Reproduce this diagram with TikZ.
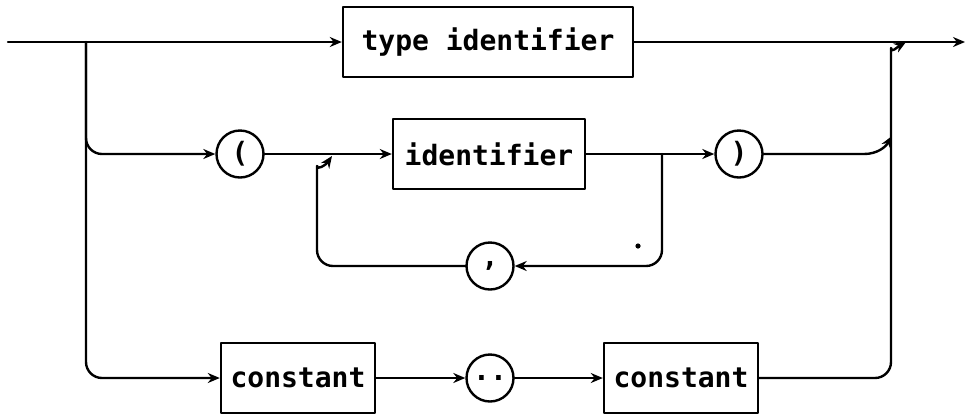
\documentclass[tikz,border=0pt]{standalone}
\usepackage{fontspec}
\setmonofont{DejaVu Sans Mono}
\usetikzlibrary{arrows.meta}
\begin{document}
\begin{tikzpicture}[x=0.5pt, y=-0.5pt, line cap=round, line join=round, >={Stealth[length=6pt, width=5pt]}, line width=1.2pt, font=\ttfamily\bfseries\fontsize{14}{16}\selectfont]
	\tikzset{box style/.style={draw, rectangle, minimum height=35pt, inner sep=2pt},
		term style/.style={draw, circle, minimum size=23.5pt, inner sep=0pt}}
	\useasboundingbox (0,0) rectangle (969,414);
	% nodes
	\node[box style, minimum width=145pt] (typeid) at (488,42) {type identifier};
	\node[term style] (lpar) at (240,154) {(};
	\node[box style, minimum width=96pt] (ident) at (489,154) {identifier};
	\node[term style] (rpar) at (739,154) {)};
	\node[term style] (comma) at (490,266) {,};
	\node[box style, minimum width=77pt] (constA) at (298,378) {constant};
	\node[term style] (dots) at (490,378) {..};
	\node[box style, minimum width=77pt] (constB) at (681,378) {constant};
	% points on the lines
	\coordinate (start) at (8,42);
	\coordinate (split) at (86,42);
	\coordinate (jtop) at (906,42);
	\coordinate (rv) at (891,64);
	\coordinate (jmid) at (892,136);
	\coordinate (bend) at (864,154);
	\coordinate (end) at (965,42);
	\coordinate (lsplit) at (662,154);
	\coordinate (lb) at (317,266);
	\coordinate (lt) at (317,182);
	\coordinate (loopin) at (332,156);
	% top row
	\draw[->] (start) -- (typeid);
	\draw[->] (typeid) -- (end);
	% middle row
	\draw[->, rounded corners=8] (split) |- (lpar);
	\draw[->] (lpar) -- (ident);
	\draw[->] (ident) -- (rpar);
	\draw[->] (rpar) -- (bend) to[out=0, in=240] (jmid);
	\draw[->, rounded corners=8] (lsplit) |- (comma);
	\draw[->, rounded corners=8] (comma) -- (lb) -- (lt) to[out=90, in=235] (loopin);
	\fill (638,246) circle (2.6);
	% bottom row
	\draw[->, rounded corners=8] (split) |- (constA);
	\draw[->] (constA) -- (dots);
	\draw[->] (dots) -- (constB);
	\draw[->, rounded corners=8] (constB) -| (rv) to[out=90, in=210] (jtop);
\end{tikzpicture}
\end{document}
